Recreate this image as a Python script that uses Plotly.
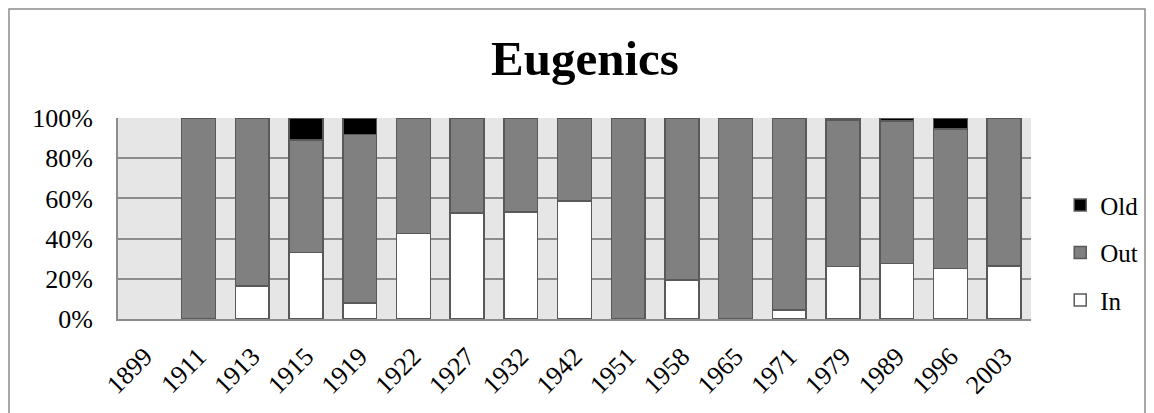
import plotly.graph_objects as go

years = ["1899", "1911", "1913", "1915", "1919", "1922", "1927", "1932", "1942",
         "1951", "1958", "1965", "1971", "1979", "1989", "1996", "2003"]
in_vals = [None, 0, 16.5, 33, 8, 42.5, 52.8, 53.3, 58.6, 0, 19.4, 0, 4.5, 26, 27.6, 25.2, 26.3]
old_vals = [None, 0, 0, 11, 8.3, 0, 0, 0, 0, 0, 0, 0, 0, 1, 1.5, 5.5, 0]
out_vals = [None, 100, 83.5, 56, 83.7, 57.5, 47.2, 46.7, 41.4, 100, 80.6, 100, 95.5, 73, 70.9, 69.3, 73.7]

font = "Liberation Serif"
line = dict(color="#595959", width=1.5)

L, T, PW, PH = 110, 110, 913, 201
W, H = 1154, 413

fig = go.Figure()
fig.add_trace(go.Bar(name="In", x=years, y=in_vals, legendrank=3, legendgroup="in",
                     marker=dict(color="#FFFFFF", line=line)))
fig.add_trace(go.Bar(name="Out", x=years, y=out_vals, legendrank=2, legendgroup="out",
                     marker=dict(color="#808080", line=line)))
fig.add_trace(go.Bar(name="Old", x=years, y=old_vals, legendrank=1, legendgroup="old",
                     marker=dict(color="#000000", line=line)))

fig.update_layout(
    barmode="stack",
    bargap=0.37,
    width=W, height=H,
    margin=dict(l=L, r=W - L - PW, t=T, b=H - T - PH),
    paper_bgcolor="white",
    plot_bgcolor="#E6E6E6",
    font=dict(family=font, size=24, color="black"),
    title=dict(text="<b>Eugenics</b>", x=0.5, xanchor="center", yref="container",
               y=1 - 50 / H, yanchor="middle",
               font=dict(family=font, size=49, color="black")),
    legend=dict(traceorder="grouped", x=1.032, xanchor="left", y=0.33, yanchor="middle",
                font=dict(family=font, size=25), itemwidth=30, tracegroupgap=12,
                bgcolor="rgba(0,0,0,0)"),
    showlegend=True,
)
fig.update_yaxes(range=[0, 100], tickvals=[0, 20, 40, 60, 80, 100],
                 ticktext=["0%", "20%", "40%", "60%", "80%", "100%"],
                 showgrid=True, gridcolor="#8C8C8C", gridwidth=2,
                 showline=True, linecolor="#8C8C8C", linewidth=2,
                 ticks="", ticklabelstandoff=18, zeroline=False,
                 tickfont=dict(size=26))
fig.update_xaxes(tickangle=-45, showline=True, linecolor="#8C8C8C", linewidth=2,
                 showgrid=False, ticks="", tickfont=dict(size=26), ticklabelstandoff=10)
fig.add_shape(type="rect", xref="paper", yref="paper",
              x0=-(L - 1) / PW, x1=(1137 - L) / PW,
              y0=-(H - T - PH + 20) / PH, y1=1 + (T - 1) / PH,
              line=dict(color="#8C8C8C", width=1.5), fillcolor="rgba(0,0,0,0)", layer="below")
fig.write_html("out.html")
